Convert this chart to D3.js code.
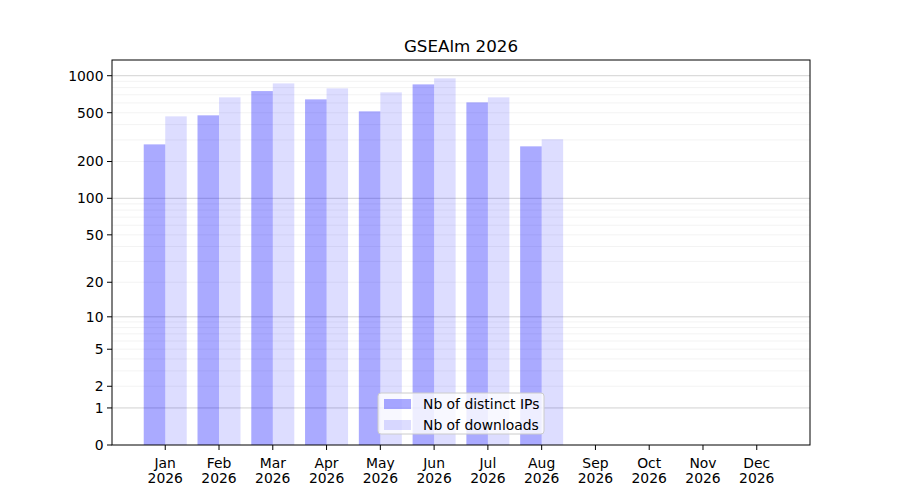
<!DOCTYPE html>
<html lang="en">
<head>
<meta charset="UTF-8">
<title>GSEAlm 2026</title>
<style>
    body { margin: 0; background: #fff; }
    svg text { font-family: "DejaVu Sans", sans-serif; fill: #000; }
</style>
<script src="https://d3js.org/d3.v7.min.js"></script>
</head>
<body>
<div id="chart"></div>
<script>
    const months = ["Jan", "Feb", "Mar", "Apr", "May", "Jun", "Jul", "Aug", "Sep", "Oct", "Nov", "Dec"];
    const year = "2026";
    const distinctIPs = [276, 476, 750, 642, 513, 850, 607, 266, 0, 0, 0, 0];
    const downloads = [467, 667, 866, 789, 732, 952, 667, 304, 0, 0, 0, 0];
    const yTicks = [0, 1, 2, 5, 10, 20, 50, 100, 200, 500, 1000];
    const majorGrid = [1, 10, 100, 1000];
    const minorGrid = [2, 3, 4, 5, 6, 7, 8, 9, 20, 30, 40, 50, 60, 70, 80, 90, 200, 300, 400, 500, 600, 700, 800, 900];

    const W = 900, H = 500;
    const m = { left: 112, right: 810, top: 60, bottom: 445 };
    const barW = 0.4;

    const svg = d3.select("#chart").append("svg")
        .attr("width", W).attr("height", H);

    // x: month index, with matplotlib-like 5% margins around bar extents
    const xMin = -barW, xMax = months.length - 1 + barW;
    const xPad = (xMax - xMin) * 0.05;
    const x = d3.scaleLinear()
        .domain([xMin - xPad, xMax + xPad])
        .range([m.left, m.right]);

    // y: symlog (log(1+v)), top with 5% margin in transformed space
    const maxV = d3.max(downloads.concat(distinctIPs));
    const yTop = Math.expm1(Math.log1p(maxV) * 1.05);
    const y = d3.scaleSymlog().constant(1)
        .domain([0, yTop])
        .range([m.bottom, m.top]);

    // grid
    svg.append("g").selectAll("line").data(minorGrid).join("line")
        .attr("x1", m.left).attr("x2", m.right)
        .attr("y1", d => y(d)).attr("y2", d => y(d))
        .attr("stroke", "#b0b0b0").attr("stroke-opacity", 0.2).attr("stroke-width", 0.8);
    svg.append("g").selectAll("line").data(majorGrid).join("line")
        .attr("x1", m.left).attr("x2", m.right)
        .attr("y1", d => y(d)).attr("y2", d => y(d))
        .attr("stroke", "#808080").attr("stroke-opacity", 0.45).attr("stroke-width", 0.8);

    // bars
    const bw = x(barW) - x(0);
    svg.append("g").selectAll("rect").data(distinctIPs).join("rect")
        .attr("x", (d, i) => x(i) - bw)
        .attr("y", d => y(d))
        .attr("width", bw)
        .attr("height", d => m.bottom - y(d))
        .attr("fill", "blue").attr("fill-opacity", 0.333);
    svg.append("g").selectAll("rect").data(downloads).join("rect")
        .attr("x", (d, i) => x(i))
        .attr("y", d => y(d))
        .attr("width", bw)
        .attr("height", d => m.bottom - y(d))
        .attr("fill", "blue").attr("fill-opacity", 0.134);

    // frame
    svg.append("rect")
        .attr("x", m.left).attr("y", m.top)
        .attr("width", m.right - m.left).attr("height", m.bottom - m.top)
        .attr("fill", "none").attr("stroke", "#000").attr("stroke-width", 1);

    // y axis
    const yAxis = svg.append("g");
    yAxis.selectAll("line").data(yTicks).join("line")
        .attr("x1", m.left - 5).attr("x2", m.left)
        .attr("y1", d => y(d)).attr("y2", d => y(d))
        .attr("stroke", "#000");
    yAxis.selectAll("text").data(yTicks).join("text")
        .attr("x", m.left - 8.5)
        .attr("y", d => y(d))
        .attr("dy", "0.35em")
        .attr("text-anchor", "end")
        .attr("font-size", "13.9px")
        .text(d => d);

    // x axis
    const xAxis = svg.append("g");
    xAxis.selectAll("line").data(months).join("line")
        .attr("x1", (d, i) => x(i)).attr("x2", (d, i) => x(i))
        .attr("y1", m.bottom).attr("y2", m.bottom + 5)
        .attr("stroke", "#000");
    const xl = xAxis.selectAll("text").data(months).join("text")
        .attr("text-anchor", "middle")
        .attr("font-size", "13.9px");
    xl.append("tspan").attr("x", (d, i) => x(i)).attr("y", 467.5).text(d => d);
    xl.append("tspan").attr("x", (d, i) => x(i)).attr("y", 483).text(year);

    // title
    svg.append("text")
        .attr("x", (m.left + m.right) / 2).attr("y", 52)
        .attr("text-anchor", "middle")
        .attr("font-size", "16.7px")
        .text("GSEAlm 2026");

    // legend
    const legendItems = [
        { label: "Nb of distinct IPs", opacity: 0.333 },
        { label: "Nb of downloads", opacity: 0.134 }
    ];
    const lg = svg.append("g").attr("transform", "translate(378,393)");
    lg.append("rect")
        .attr("width", 166).attr("height", 41).attr("rx", 3)
        .attr("fill", "#fff").attr("fill-opacity", 0.8)
        .attr("stroke", "#cccccc").attr("stroke-width", 1);
    const li = lg.selectAll("g.item").data(legendItems).join("g")
        .attr("class", "item")
        .attr("transform", (d, i) => `translate(6,${6 + i * 21})`);
    li.append("rect")
        .attr("width", 27).attr("height", 10)
        .attr("fill", "blue").attr("fill-opacity", d => d.opacity);
    li.append("text")
        .attr("x", 39).attr("y", 10)
        .attr("font-size", "13.9px")
        .text(d => d.label);
</script>
</body>
</html>
